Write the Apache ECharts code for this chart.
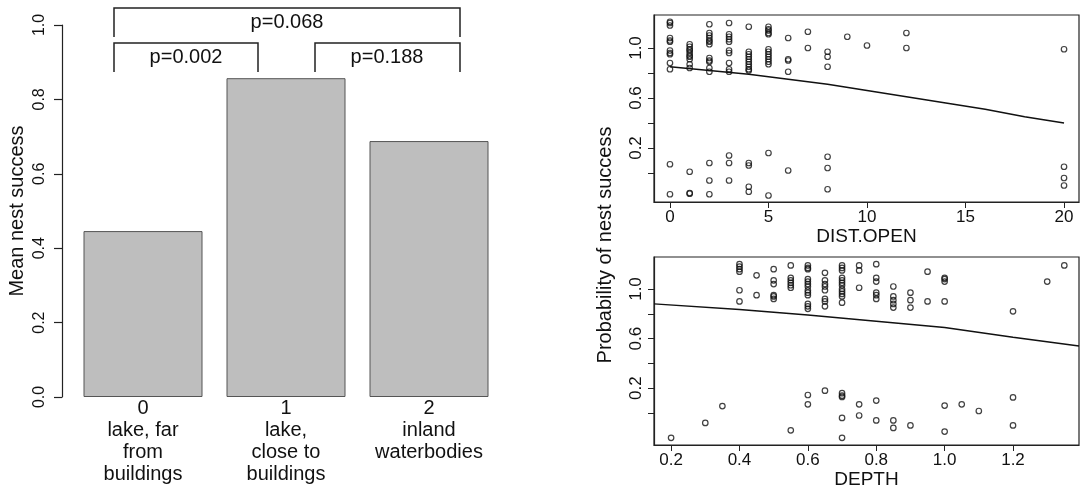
<!DOCTYPE html>
<html>
<head>
<meta charset="utf-8">
<script src="https://cdn.jsdelivr.net/npm/echarts@6/dist/echarts.min.js"></script>
<style>
html,body{margin:0;padding:0;background:#fff;}
#chart{width:1082px;height:493px;}
</style>
</head>
<body>
<div id="chart"></div>
<script>
// ---------- DATA ----------
const groupCodes = ['0', '1', '2'];
const groupNames = ['lake, far\nfrom\nbuildings', 'lake,\nclose to\nbuildings', 'inland\nwaterbodies'];
const meanSuccess = [0.446, 0.857, 0.688];
const pLabels = ['p=0.002', 'p=0.188', 'p=0.068'];

const leftTicks = [0, 0.2, 0.4, 0.6, 0.8, 1.0];
const probTicks = [0, 0.2, 0.4, 0.6, 0.8, 1.0];
const probLabels = [0.2, 0.6, 1.0];
const distTicks = [0, 5, 10, 15, 20];
const depthTicks = [0.2, 0.4, 0.6, 0.8, 1.0, 1.2];

// DIST.OPEN scatter: x values and jittered outcome values per x
const distX = [0, 1, 2, 3, 4, 5, 6, 7, 8, 9, 10, 12, 20];
const distY = [
  [1.21, 1.20, 1.18, 1.08, 1.06, 1.05, 0.98, 0.96, 0.95, 0.88, 0.83, 0.07, -0.17],
  [1.03, 1.01, 0.99, 0.98, 0.96, 0.94, 0.93, 0.91, 0.87, 0.84, 0.01, -0.16, -0.165],
  [1.19, 1.12, 1.10, 1.08, 1.06, 1.05, 1.03, 0.92, 0.90, 0.89, 0.84, 0.81, 0.08, -0.06, -0.17],
  [1.20, 1.11, 1.09, 1.07, 1.05, 0.98, 0.96, 0.88, 0.83, 0.81, 0.14, 0.08, -0.06],
  [1.17, 0.97, 0.95, 0.93, 0.91, 0.89, 0.87, 0.85, 0.83, 0.82, 0.08, 0.06, -0.11, -0.15],
  [1.17, 1.15, 1.14, 1.12, 1.11, 0.99, 0.97, 0.95, 0.93, 0.91, 0.89, 0.87, 0.16, -0.18],
  [1.08, 0.91, 0.90, 0.81, 0.02],
  [1.13, 1.00],
  [0.97, 0.93, 0.85, 0.13, 0.04, -0.13],
  [1.09],
  [1.02],
  [1.12, 1.00],
  [0.99, 0.05, -0.04, -0.10]
];
// fitted curve
const distCurveX = [0, 2, 4, 6, 8, 10, 12, 14, 16, 18, 20];
const distCurveY = [0.85, 0.82, 0.79, 0.75, 0.71, 0.66, 0.61, 0.56, 0.51, 0.45, 0.40];

// DEPTH scatter
const depthX = [0.2, 0.3, 0.35, 0.4, 0.45, 0.5, 0.55, 0.6, 0.65, 0.7, 0.75, 0.8, 0.85, 0.9, 0.95, 1.0, 1.05, 1.1, 1.2, 1.3, 1.35];
const depthY = [
  [-0.20],
  [-0.08],
  [0.056],
  [1.20, 1.18, 1.16, 1.14, 0.99, 0.90],
  [1.11, 0.95],
  [1.16, 1.07, 1.04, 0.95, 0.94, 0.92],
  [1.19, 1.09, 1.07, 1.05, 1.03, 1.01, -0.14],
  [1.19, 1.17, 1.16, 1.08, 1.06, 1.04, 1.02, 0.99, 0.97, 0.95, 0.88, 0.86, 0.84, 0.145, 0.07],
  [1.13, 1.07, 1.04, 1.02, 0.99, 0.92, 0.90, 0.86, 0.18],
  [1.19, 1.17, 1.15, 1.09, 1.07, 1.05, 1.03, 1.00, 0.98, 0.96, 0.94, 0.89, 0.16, 0.14, 0.13, -0.04, -0.20],
  [1.19, 1.15, 1.01, 0.07, -0.02],
  [1.20, 1.09, 1.06, 0.97, 0.95, 0.92, 0.10, -0.06],
  [1.02, 0.94, 0.91, 0.88, 0.85, -0.06, -0.12],
  [0.97, 0.91, 0.85, -0.10],
  [1.14, 0.90],
  [1.09, 1.08, 1.06, 0.90, 0.06, -0.15],
  [0.07],
  [0.016],
  [0.82, 0.126, -0.10],
  [1.06],
  [1.19]
];
const depthCurveX = [0.15, 0.4, 0.6, 0.8, 1.0, 1.2, 1.393];
const depthCurveY = [0.88, 0.835, 0.79, 0.74, 0.69, 0.61, 0.54];

// ---------- BUILD ----------
function pairs(xs, ys) {
  const out = [];
  xs.forEach((x, i) => ys[i].forEach(y => out.push([x, y])));
  return out;
}
function zip(xs, ys) { return xs.map((x, i) => [x, ys[i]]); }

const FONT = '"Liberation Sans", Arial, Helvetica, sans-serif';
const black = '#000';

const chart = echarts.init(document.getElementById('chart'), null, {renderer: 'canvas'});

const scatterStyle = {
  color: 'rgba(255,255,255,0)',
  borderColor: '#111',
  borderWidth: 1.2
};

const option = {
  animation: false,
  backgroundColor: '#fff',
  textStyle: {fontFamily: FONT, color: black},
  grid: [
    {left: 71.5, width: 429, top: 25, height: 372},
    {left: 654, width: 425, top: 15, height: 187, show: true, borderColor: '#222', borderWidth: 1.2},
    {left: 654, width: 425, top: 257, height: 188, show: true, borderColor: '#222', borderWidth: 1.2}
  ],
  xAxis: [
    {
      type: 'category', gridIndex: 0, data: groupCodes,
      axisLine: {show: false}, axisTick: {show: false},
      axisLabel: {
        interval: 0, margin: 0, fontSize: 20, lineHeight: 22, color: '#111', fontFamily: FONT,
        formatter: (v, i) => v + '\n' + groupNames[i]
      }
    },
    {
      type: 'value', gridIndex: 1, min: -0.81, max: 20.76,
      splitLine: {show: false},
      axisLine: {show: true, onZero: false, lineStyle: {color: '#222', width: 1.2}},
      axisTick: {show: true, length: 6, customValues: distTicks, lineStyle: {color: '#222'}},
      axisLabel: {customValues: distTicks, fontSize: 17, margin: 7, color: '#111', fontFamily: FONT},
      name: 'DIST.OPEN', nameLocation: 'middle', nameGap: 23,
      nameTextStyle: {fontSize: 19, color: '#111', fontFamily: FONT}
    },
    {
      type: 'value', gridIndex: 2, min: 0.150, max: 1.393,
      splitLine: {show: false},
      axisLine: {show: true, onZero: false, lineStyle: {color: '#222', width: 1.2}},
      axisTick: {show: true, length: 6, customValues: depthTicks, lineStyle: {color: '#222'}},
      axisLabel: {customValues: depthTicks, fontSize: 17, margin: 7, color: '#111', fontFamily: FONT,
        formatter: v => v.toFixed(1)},
      name: 'DEPTH', nameLocation: 'middle', nameGap: 25,
      nameTextStyle: {fontSize: 19, color: '#111', fontFamily: FONT}
    }
  ],
  yAxis: [
    {
      type: 'value', gridIndex: 0, min: 0, max: 1, interval: 0.2, offset: 9.5,
      splitLine: {show: false},
      axisLine: {show: true, onZero: false, lineStyle: {color: '#222', width: 1.2}},
      axisTick: {show: true, length: 8, lineStyle: {color: '#222', width: 1.2}},
      axisLabel: {rotate: 90, fontSize: 16, margin: 14, color: '#111', fontFamily: FONT,
        formatter: v => v.toFixed(1)},
      name: 'Mean nest success', nameLocation: 'middle', nameRotate: 90, nameGap: 35,
      nameTextStyle: {fontSize: 20, color: '#111', fontFamily: FONT}
    },
    {
      type: 'value', gridIndex: 1, min: -0.232, max: 1.264,
      splitLine: {show: false},
      axisLine: {show: true, onZero: false, lineStyle: {color: '#222', width: 1.2}},
      axisTick: {show: true, length: 6, customValues: probTicks, lineStyle: {color: '#222'}},
      axisLabel: {customValues: probLabels, rotate: 90, fontSize: 17, margin: 9, color: '#111', fontFamily: FONT,
        formatter: v => v.toFixed(1)}
    },
    {
      type: 'value', gridIndex: 2, min: -0.258, max: 1.258,
      splitLine: {show: false},
      axisLine: {show: true, onZero: false, lineStyle: {color: '#222', width: 1.2}},
      axisTick: {show: true, length: 6, customValues: probTicks, lineStyle: {color: '#222'}},
      axisLabel: {customValues: probLabels, rotate: 90, fontSize: 17, margin: 9, color: '#111', fontFamily: FONT,
        formatter: v => v.toFixed(1)}
    }
  ],
  series: [
    {
      type: 'bar', xAxisIndex: 0, yAxisIndex: 0, data: meanSuccess, barWidth: 119,
      itemStyle: {color: '#bebebe', borderColor: '#555', borderWidth: 1}
    },
    {
      type: 'scatter', xAxisIndex: 1, yAxisIndex: 1, data: pairs(distX, distY),
      symbol: 'circle', symbolSize: 5.5, itemStyle: scatterStyle, z: 3
    },
    {
      type: 'line', xAxisIndex: 1, yAxisIndex: 1, data: zip(distCurveX, distCurveY),
      showSymbol: false, smooth: false, lineStyle: {color: '#111', width: 1.5}, z: 2
    },
    {
      type: 'scatter', xAxisIndex: 2, yAxisIndex: 2, data: pairs(depthX, depthY),
      symbol: 'circle', symbolSize: 5.5, itemStyle: scatterStyle, z: 3
    },
    {
      type: 'line', xAxisIndex: 2, yAxisIndex: 2, data: zip(depthCurveX, depthCurveY),
      showSymbol: false, smooth: false, lineStyle: {color: '#111', width: 1.5}, z: 2
    }
  ],
  graphic: [
    {type: 'polyline', shape: {points: [[114, 37], [114, 8], [460, 8], [460, 37]]},
      style: {stroke: '#222', lineWidth: 1.5, fill: null}},
    {type: 'polyline', shape: {points: [[114, 72], [114, 43], [258, 43], [258, 72]]},
      style: {stroke: '#222', lineWidth: 1.5, fill: null}},
    {type: 'polyline', shape: {points: [[315, 72], [315, 43], [460, 43], [460, 72]]},
      style: {stroke: '#222', lineWidth: 1.5, fill: null}},
    {type: 'text', x: 186, y: 57, style: {text: pLabels[0], font: '20px ' + FONT, fill: '#111', align: 'center', verticalAlign: 'middle'}},
    {type: 'text', x: 387, y: 57, style: {text: pLabels[1], font: '20px ' + FONT, fill: '#111', align: 'center', verticalAlign: 'middle'}},
    {type: 'text', x: 287, y: 22, style: {text: pLabels[2], font: '20px ' + FONT, fill: '#111', align: 'center', verticalAlign: 'middle'}},
    {type: 'text', x: 605, y: 245, rotation: Math.PI / 2,
      style: {text: 'Probability of nest success', font: '20px ' + FONT, fill: '#111', align: 'center', verticalAlign: 'middle'}}
  ]
};

chart.setOption(option);
</script>
</body>
</html>
